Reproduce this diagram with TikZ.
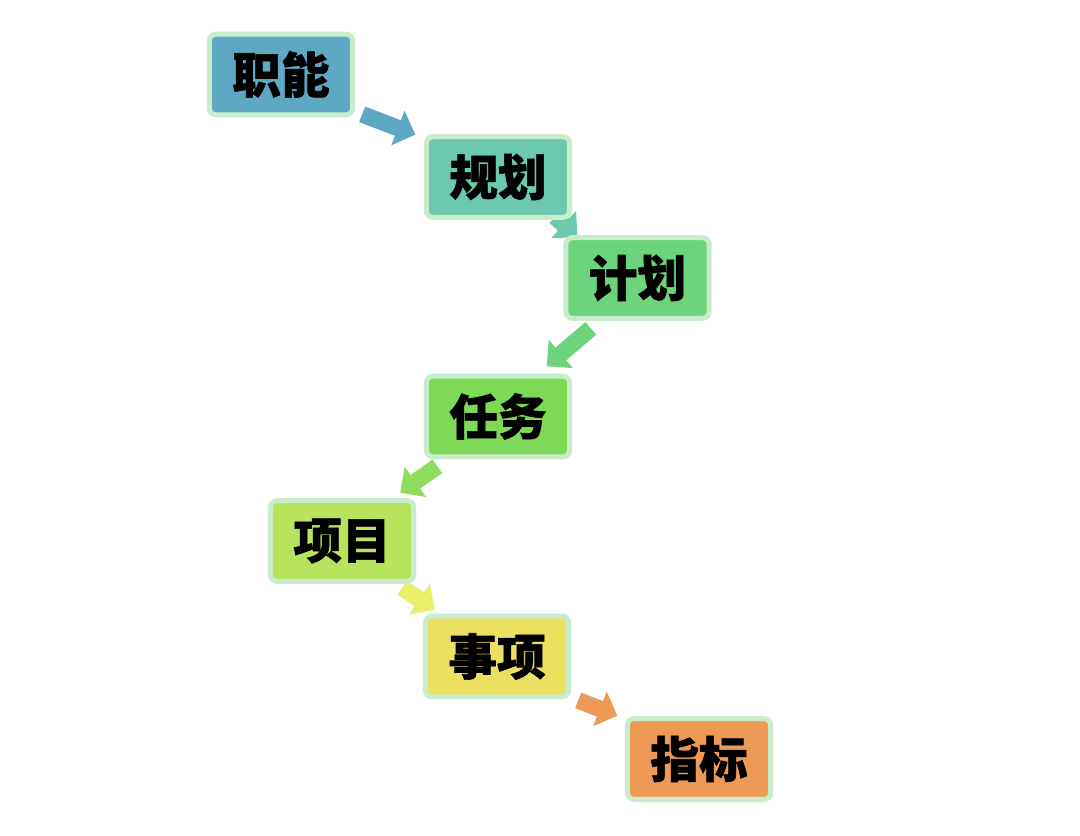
\documentclass[tikz,border=0pt]{standalone}
\usepackage{fontspec}
\newfontfamily\cjk{Noto Sans CJK SC}[BoldFeatures={FakeBold=1.2}]
\usetikzlibrary{arrows.meta,calc,backgrounds}
\definecolor{bordc}{HTML}{C9ECCB}
\definecolor{c1}{HTML}{5FA8C4}
\definecolor{c2}{HTML}{6CC9B0}
\definecolor{c3}{HTML}{6DD47E}
\definecolor{c4}{HTML}{7ED957}
\definecolor{c5}{HTML}{B8E35C}
\definecolor{c6}{HTML}{ECE060}
\definecolor{c7}{HTML}{EC9A55}
\definecolor{a4}{HTML}{90DC5E}
\definecolor{a5}{HTML}{E8F06A}
\tikzset{
  box/.style={draw=bordc, line width=3.75pt, rounded corners=5pt,
    minimum width=107.5pt, minimum height=60.5pt, inner sep=0pt,
    font=\cjk\bfseries\fontsize{36.5}{36.5}\selectfont, text=black},
  blockarrow/.style={line width=12.5pt, -{Triangle[width=27pt,length=14pt]}}
}
\begin{document}
\begin{tikzpicture}[x=0.75pt,y=-0.75pt]
\useasboundingbox (0,0) rectangle (1080,835);
\node[box, fill=c1] (b1) at (281,74.5) {职能};
\node[box, fill=c2] (b2) at (498,177) {规划};
\node[box, fill=c3] (b3) at (637.5,278) {计划};
\node[box, fill=c4] (b4) at (498,416.5) {任务};
\node[box, fill=c5] (b5) at (342,541) {项目};
\node[box, fill=c6] (b6) at (497,656.5) {事项};
\node[box, fill=c7] (b7) at (699,759) {指标};
\begin{scope}[on background layer]
\fill[white] (0,0) rectangle (1080,835);
\draw[blockarrow, c1] ($(b1.south east)+(7,-3)$) -- ($(b2.north west)+(-8.5,0.5)$);
\draw[blockarrow, c2] ($(b2.south east)+(-17,-3)$) -- ($(b3.north west)+(14,2)$);
\draw[blockarrow, c3] ($(b3.south west)+(27.5,7.5)$) -- ($(b4.north east)+(-25.5,-7.5)$);
\draw[blockarrow, a4] ($(b4.south west)+(13.5,7)$) -- ($(b5.north east)+(-16,-5.5)$);
\draw[blockarrow, a5] ($(b5.south east)+(-14,4)$) -- ($(b6.north west)+(12,-4)$);
\draw[blockarrow, c7] ($(b6.south east)+(7,1)$) -- ($(b7.north west)+(-7.5,-0.5)$);
\end{scope}
\end{tikzpicture}
\end{document}
